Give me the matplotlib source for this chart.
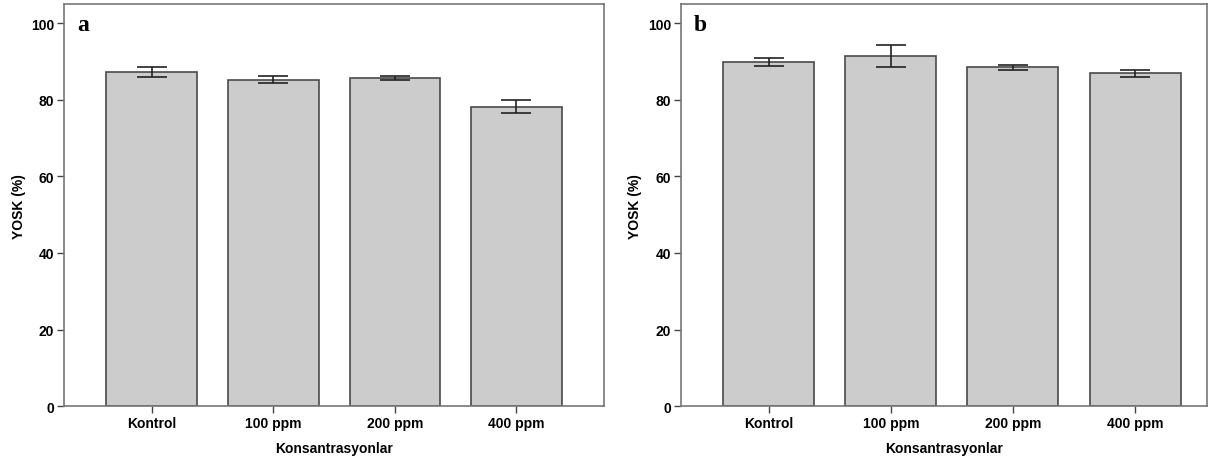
import matplotlib.pyplot as plt
import numpy as np

categories = ['Kontrol', '100 ppm', '200 ppm', '400 ppm']
yosk_a = [87.3, 85.2, 85.7, 78.2]
err_a = [1.35, 0.9, 0.6, 1.7]
yosk_b = [89.9, 91.5, 88.5, 86.9]
err_b = [1.0, 2.9, 0.65, 0.85]

plt.rcParams['font.family'] = ['Liberation Sans', 'DejaVu Sans']

fig = plt.figure(figsize=(12.2, 4.6), dpi=100)
ax_a = fig.add_axes([0.0525, 0.115, 0.4426, 0.874])
ax_b = fig.add_axes([0.558, 0.115, 0.4315, 0.874])

x = np.arange(len(categories))
panels = [(ax_a, yosk_a, err_a, 'a', 3.72), (ax_b, yosk_b, err_b, 'b', 3.59)]
for ax, vals, errs, tag, xr in panels:
	ax.bar(x, vals, width=0.745, color='#cccccc', edgecolor='#4a4a4a', linewidth=1.2, zorder=2)
	ax.errorbar(x, vals, yerr=errs, fmt='none', ecolor='#222222', elinewidth=1.2,
		capsize=11, capthick=1.2, zorder=3)
	ax.set_xlim(-0.72, xr)
	ax.set_ylim(0, 105)
	ax.set_yticks([0, 20, 40, 60, 80, 100])
	ax.set_xticks(x)
	ax.set_xticklabels(categories, fontweight='bold', fontsize=10)
	for lab in ax.get_yticklabels():
		lab.set_fontweight('bold')
		lab.set_fontsize(10)
	ax.set_xlabel('Konsantrasyonlar', fontweight='bold', fontsize=10, labelpad=8)
	ax.set_ylabel('YOSK (%)', fontweight='bold', fontsize=10, labelpad=4)
	ax.tick_params(axis='both', length=5, width=1, color='#444444', pad=2)
	for s in ax.spines.values():
		s.set_color('#777777')
		s.set_linewidth(1.2)
	ax.text(0.025, 0.975, tag, transform=ax.transAxes, ha='left', va='top',
		fontsize=17, fontweight='bold', family=['Liberation Serif', 'DejaVu Serif'])

fig.savefig('out.png', dpi=100)
